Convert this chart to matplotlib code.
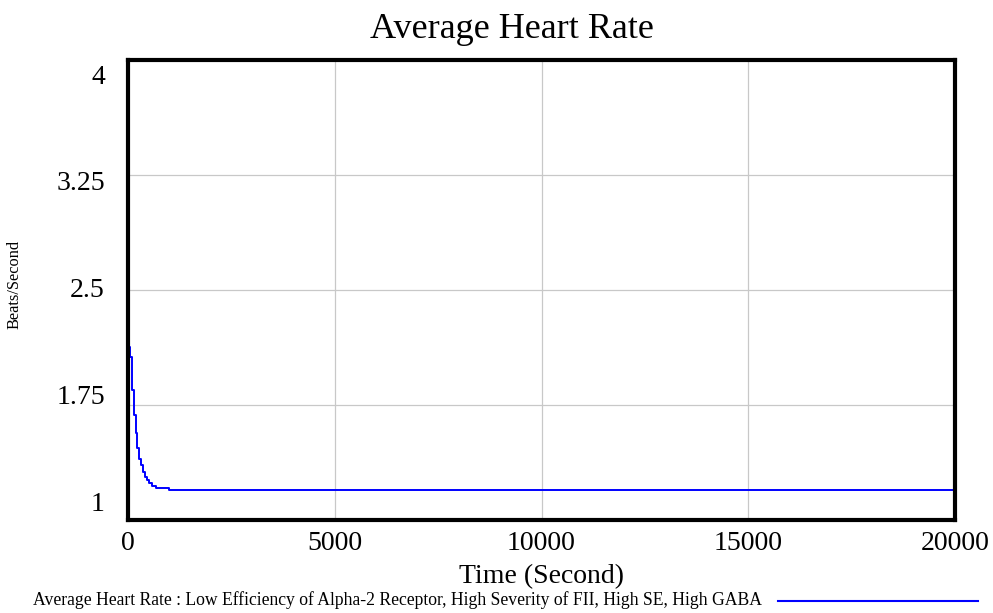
import matplotlib
matplotlib.use("Agg")
import matplotlib.pyplot as plt

# simulated run (step output)
time_s = [0, 0, 40, 90, 135, 190, 225, 270, 315, 355, 405, 450, 515, 575, 675, 1000, 20000]
heart_rate = [1.2, 2.13, 2.06, 1.85, 1.685, 1.57, 1.47, 1.40, 1.36, 1.31, 1.28, 1.26,
              1.24, 1.22, 1.21, 1.196, 1.196]

y_ticks = [1, 1.75, 2.5, 3.25, 4]
y_tick_labels = ["1", "1.75", "2.5", "3.25", "4"]
x_ticks = [0, 5000, 10000, 15000, 20000]

series_label = ("Average Heart Rate : Low Efficiency of Alpha-2 Receptor, "
                "High Severity of FII, High SE, High GABA")

plt.rcParams['font.family'] = ['Liberation Serif', 'DejaVu Serif']

W, H = 993, 613
fig = plt.figure(figsize=(W / 100, H / 100), dpi=100)
ax = fig.add_axes([128 / W, 1 - 520 / H, 827 / W, 460 / H])

ax.plot(time_s, heart_rate, color='#0000ff', linewidth=1.4, drawstyle='steps-post')

ax.set_xlim(0, 20000)
ax.set_ylim(1, 4)
ax.set_xticks(x_ticks)
ax.set_xticklabels([str(t) for t in x_ticks])
ax.set_yticks(y_ticks)
ax.set_yticklabels([])
ax.tick_params(axis='both', length=0, labelsize=20, pad=8)

# vensim spreads the y labels evenly inside the frame, not on the gridlines
n = len(y_tick_labels)
for i, lab in enumerate(y_tick_labels):
    frac = 0.033 + i * (0.963 - 0.033) / (n - 1)
    ax.text(-0.028, frac, lab, transform=ax.transAxes, fontsize=20,
            ha='right', va='center')

ax.grid(True, color='#c8c8c8', linewidth=0.9)
for sp in ax.spines.values():
    sp.set_linewidth(3)
    sp.set_color('black')

fig.text(512 / W, 1 - 29 / H, "Average Heart Rate", fontsize=26, ha='center', va='center')
ax.set_xlabel("Time (Second)", fontsize=20, labelpad=6)
fig.text(15 / W, 1 - 284 / H, "Beats/Second", fontsize=11.8, rotation=90,
         ha='center', va='center')

# legend row at the bottom
fig.text(33 / W, 1 - 600 / H, series_label, fontsize=12.7, va='center', ha='left')
fig.add_artist(plt.Line2D([778 / W, 978 / W], [1 - 601 / H, 1 - 601 / H],
                          color='#0000ff', linewidth=1.5, transform=fig.transFigure))

fig.savefig("out.png", dpi=100)
